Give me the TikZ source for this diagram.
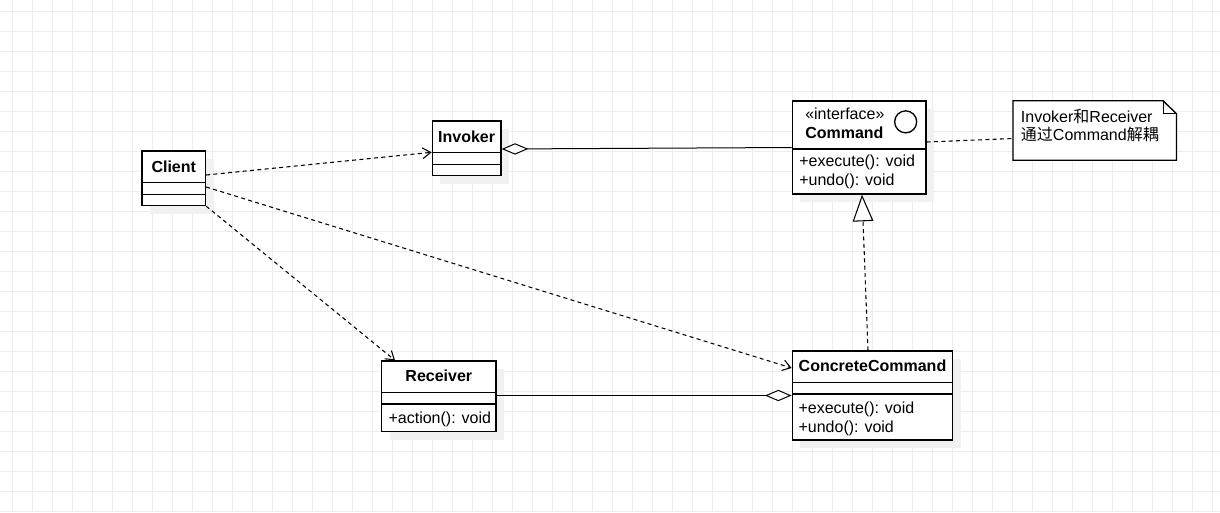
\documentclass[tikz,border=0pt]{standalone}
\usepackage{fontspec}
\setmainfont{Liberation Sans}
\newfontfamily\cjk{Noto Sans CJK SC}
\usepackage{tikz}
\usetikzlibrary{arrows.meta, fit}
\definecolor{gridgray}{RGB}{237, 237, 237}
\definecolor{shadowgray}{RGB}{241, 241, 241}

\begin{document}
\begin{tikzpicture}[x=0.75pt, y=-0.75pt,
    font=\fontsize{12}{13.5}\selectfont,
    cls/.style={draw, fill=white, line width=1pt, inner sep=0pt},
    sep/.style={line width=1pt},
    title/.style={font=\fontsize{12}{13.5}\selectfont\bfseries, inner sep=0pt},
    member/.style={anchor=west, inner sep=0pt},
    dep/.style={dash pattern=on 3pt off 2.5pt, line width=0.8pt},
    assoc/.style={line width=0.75pt},
    opentip/.tip={Straight Barb[length=6pt, width=8pt]},
    aggtip/.tip={Diamond[fill=white, length=20pt, width=8.5pt]},
    realtip/.tip={Triangle[fill=white, length=20pt, width=15.5pt]}]
    % canvas and grid
    \fill[white] (0,0) rectangle (1220,512);
    \useasboundingbox (0,0) rectangle (1220,512);
    \foreach \x in {12,32,...,1212}
        \draw[gridgray, line width=0.75pt] (\x,0) -- (\x,512);
    \foreach \y in {11,31,...,511}
        \draw[gridgray, line width=0.75pt] (0,\y) -- (1220,\y);

    % shadows
    \fill[shadowgray] (150,159) rectangle (214,214);
    \fill[shadowgray] (440,129) rectangle (509,184);
    \fill[shadowgray] (800,109) rectangle (934,202);
    \fill[shadowgray] (390,369) rectangle (504,440);
    \fill[shadowgray] (800,359) rectangle (961,448);

    % Client
    \node[cls, fit={(142,151) (205.5,205.5)}] (client) {};
    \draw[sep] (client.west |- 0,182.3) -- (client.east |- 0,182.3);
    \draw[sep] (client.west |- 0,194.3) -- (client.east |- 0,194.3);
    \node[title] at (client.center |- 0,166.5) {Client};

    % Invoker
    \node[cls, fit={(432.3,121) (501,175.7)}] (invoker) {};
    \draw[sep] (invoker.west |- 0,152.3) -- (invoker.east |- 0,152.3);
    \draw[sep] (invoker.west |- 0,164.3) -- (invoker.east |- 0,164.3);
    \node[title] at (invoker.center |- 0,136.5) {Invoker};

    % Command
    \node[cls, fit={(792.3,101) (926,194)}] (command) {};
    \draw[sep] (command.west |- 0,149) -- (command.east |- 0,149);
    \node[member] at (805,113.5) {«interface»};
    \node[title, anchor=west] at (805,132.7) {Command};
    \draw[sep] (command.north east) ++(-21,21.5) circle[radius=11];
    \node[member] at (799,162.5) {+execute(): void};
    \node[member] at (799,181) {+undo(): void};

    % Receiver
    \node[cls, fit={(381.7,361) (496,431.7)}] (receiver) {};
    \draw[sep] (receiver.west |- 0,392.3) -- (receiver.east |- 0,392.3);
    \draw[sep] (receiver.west |- 0,404) -- (receiver.east |- 0,404);
    \node[title] at (receiver.center |- 0,376) {Receiver};
    \node[member] at (388.3,419) {+action(): void};

    % ConcreteCommand
    \node[cls, fit={(792.3,351) (952.7,440)}] (concrete) {};
    \draw[sep] (concrete.west |- 0,382.3) -- (concrete.east |- 0,382.3);
    \draw[sep] (concrete.west |- 0,394) -- (concrete.east |- 0,394);
    \node[title] at (concrete.center |- 0,366) {ConcreteCommand};
    \node[member] at (798.3,409) {+execute(): void};
    \node[member] at (798.3,428) {+undo(): void};

    % note
    \node[inner sep=0pt, fit={(1013.3,101) (1176.7,160)}] (note) {};
    \draw[cls] (note.north west) -- ++(150,0) -- ++(13.4,13) |- (note.south west) -- cycle;
    \draw[sep] (note.north east) ++(-13.4,0) |- ++(13.4,13);
    \node[member, align=left] at (1020.7,125.5) {Invoker{\cjk 和}Receiver\\{\cjk 通过}Command{\cjk 解耦}};

    % connectors
    \draw[dep, -opentip] (client.east |- 0,175) -- (invoker.west |- 0,152.3);
    \draw[dep, -opentip] (client.east |- 0,187) -- (concrete.west |- 0,368);
    \draw[dep, -opentip] (client.south east) -- (395,0 |- receiver.north);
    \draw[assoc, aggtip-] (invoker.east |- 0,149) -- (command.west |- 0,147.5);
    \draw[assoc, -aggtip] (receiver.east |- 0,395.5) -- (concrete.west |- 0,395.5);
    \draw[dep, -realtip] (868,0 |- concrete.north) -- (862,0 |- command.south);
    \draw[dep] (command.east |- 0,142) -- (note.west |- 0,138.5);
\end{tikzpicture}
\end{document}
